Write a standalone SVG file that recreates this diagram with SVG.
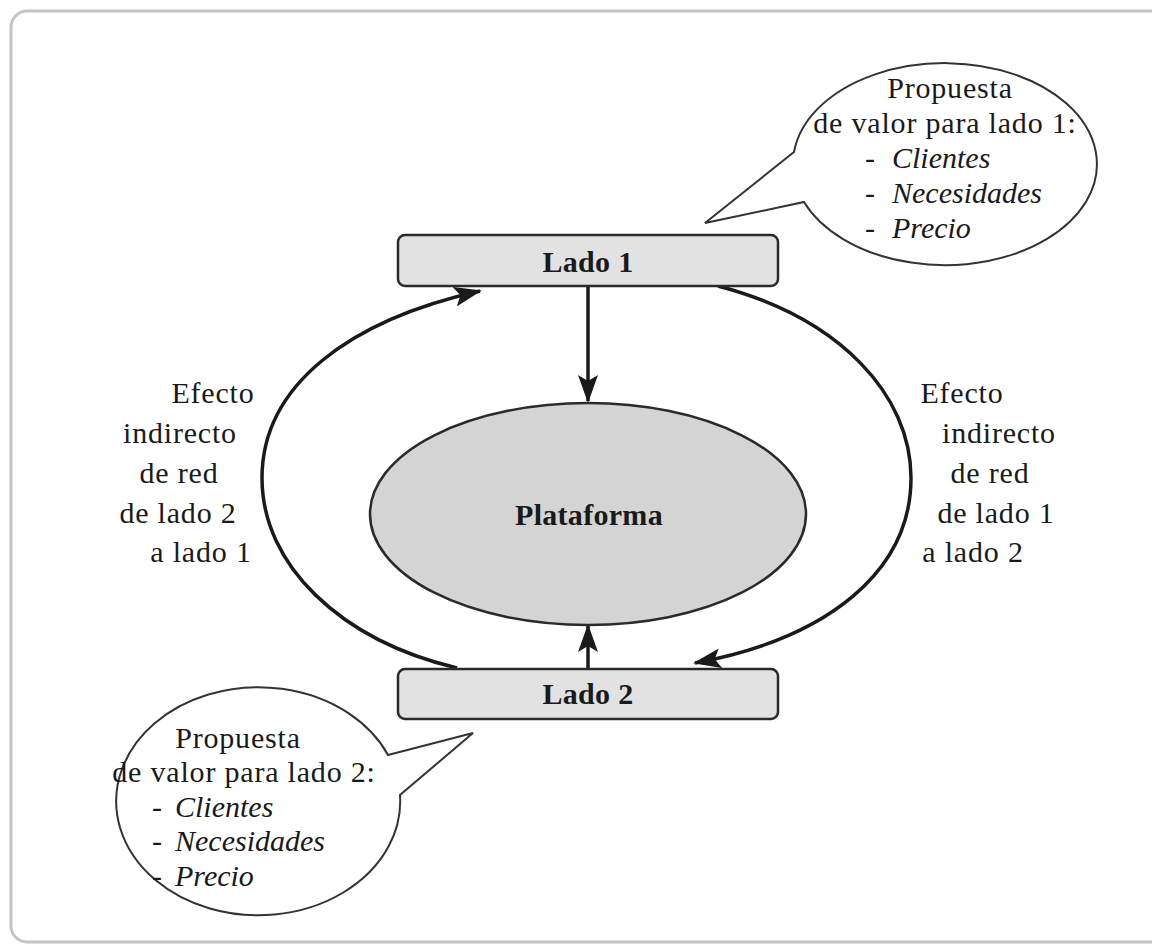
<svg xmlns="http://www.w3.org/2000/svg" width="1152" height="945" viewBox="0 0 1152 945">
<style>
.t{font-family:"Liberation Serif","Times New Roman",serif;font-size:30px;fill:#1a1a1a;letter-spacing:0.8px}
.b{font-weight:bold;letter-spacing:0.3px}
.i{font-style:italic;letter-spacing:0}
.box{fill:#e2e2e2;stroke:#2a2a2a;stroke-width:2.5}
.ln{fill:none;stroke:#1a1a1a;stroke-width:3.5}
.bub{fill:#fff;stroke:#333;stroke-width:2}
</style>
<defs>
<marker id="ah" markerUnits="userSpaceOnUse" markerWidth="28" markerHeight="20" refX="26" refY="10" orient="auto">
<path d="M0,0 L28,10 L0,20 L6,10 Z" fill="#1a1a1a"/>
</marker>
</defs>
<rect x="11" y="11" width="1170" height="931" rx="16" fill="#fff" stroke="#c4c4c4" stroke-width="3"/>
<g id="connectors">
<path class="ln" d="M457,668 C 340,640 262,565 262,478 C 262,385 350,320 480,291" marker-end="url(#ah)"/>
<path class="ln" d="M718,286 C 840,318 911,395 911,478 C 911,570 830,638 695,663" marker-end="url(#ah)"/>
<line class="ln" x1="588" y1="287" x2="588" y2="401" stroke-width="3" marker-end="url(#ah)"/>
<line class="ln" x1="588" y1="668" x2="588" y2="626" stroke-width="3" marker-end="url(#ah)"/>
</g>
<g id="lado1">
<rect class="box" x="398" y="235" width="380" height="51" rx="7"/>
<text class="t b" x="588" y="272" text-anchor="middle">Lado 1</text>
</g>
<g id="lado2">
<rect class="box" x="398" y="669" width="380" height="50" rx="7"/>
<text class="t b" x="588" y="704" text-anchor="middle">Lado 2</text>
</g>
<g id="plataforma">
<ellipse cx="588" cy="514" rx="218" ry="111" fill="#d4d4d4" stroke="#2a2a2a" stroke-width="2.5"/>
<text class="t b" x="589" y="525" text-anchor="middle">Plataforma</text>
</g>
<g id="efecto-left">
<text class="t" x="213" y="403" text-anchor="middle">Efecto</text>
<text class="t" x="180" y="443" text-anchor="middle">indirecto</text>
<text class="t" x="179" y="483" text-anchor="middle">de red</text>
<text class="t" x="178" y="523" text-anchor="middle">de lado 2</text>
<text class="t" x="201" y="562" text-anchor="middle">a lado 1</text>
</g>
<g id="efecto-right">
<text class="t" x="962" y="403" text-anchor="middle">Efecto</text>
<text class="t" x="999" y="443" text-anchor="middle">indirecto</text>
<text class="t" x="990" y="483" text-anchor="middle">de red</text>
<text class="t" x="996" y="523" text-anchor="middle">de lado 1</text>
<text class="t" x="973" y="562" text-anchor="middle">a lado 2</text>
</g>
<g id="callout1">
<path class="bub" d="M794,152 L705,223 L804,202 A152,101 0 1 0 794,152 Z"/>
<text class="t" x="950" y="98" text-anchor="middle">Propuesta</text>
<text class="t" x="945" y="133" text-anchor="middle">de valor para lado 1:</text>
<text class="t" x="865" y="168">- <tspan class="i" x="892">Clientes</tspan></text>
<text class="t" x="865" y="203">- <tspan class="i" x="892">Necesidades</tspan></text>
<text class="t" x="865" y="238">- <tspan class="i" x="892">Precio</tspan></text>
</g>
<g id="callout2">
<path class="bub" d="M388,755 L473,733 L400,795 A142,114 0 1 1 388,755 Z"/>
<text class="t" x="238" y="748" text-anchor="middle">Propuesta</text>
<text class="t" x="244" y="782" text-anchor="middle">de valor para lado 2:</text>
<text class="t" x="152" y="817">- <tspan class="i" x="175">Clientes</tspan></text>
<text class="t" x="152" y="851">- <tspan class="i" x="175">Necesidades</tspan></text>
<text class="t" x="152" y="886">- <tspan class="i" x="175">Precio</tspan></text>
</g>
</svg>
